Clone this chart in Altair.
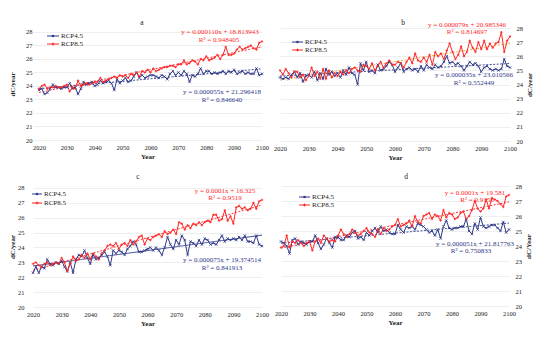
import altair as alt
import pandas as pd

years = list(range(2020, 2101))
series_names = ["RCP4.5", "RCP8.5"]

a_rcp45 = [23.7, 23.8, 23.4, 23.5, 23.8, 24.1, 23.9, 23.9, 23.8, 23.9,
           23.9, 24.2, 23.8, 23.9, 23.4, 23.8, 24.3, 24.1, 24.2, 24.3,
           24.0, 24.1, 24.4, 24.2, 24.3, 24.4, 24.2, 23.7, 24.5, 24.2,
           24.4, 24.6, 24.3, 24.4, 24.7, 25.0, 24.6, 24.8, 24.6, 24.7,
           24.8, 24.8, 24.7, 24.6, 24.8, 24.7, 24.5, 24.9, 25.1, 24.8,
           25.0, 24.8, 25.1, 24.9, 24.3, 24.8, 24.7, 24.9, 25.3, 24.9,
           25.1, 25.1, 24.9, 25.0, 24.9, 25.0, 25.1, 24.9, 25.1, 25.0,
           25.2, 24.9, 25.0, 25.1, 24.9, 25.0, 24.9, 24.9, 25.3, 24.8,
           24.9]
a_rcp85 = [23.8, 24.0, 24.1, 23.8, 23.9, 23.9, 24.0, 23.9, 23.9, 24.0,
           24.1, 23.6, 23.9, 23.8, 24.4, 24.0, 24.1, 24.2, 24.1, 24.2,
           24.3, 24.3, 24.6, 24.3, 24.4, 24.5, 24.6, 24.7, 24.6, 24.8,
           24.7, 24.8, 24.6, 24.9, 24.8, 25.0, 24.7, 25.1, 25.0, 25.2,
           25.0, 25.3, 25.1, 25.2, 25.3, 25.4, 25.4, 25.5, 25.5, 25.4,
           25.6, 25.6, 25.9, 25.6, 25.7, 25.9, 25.8, 25.6, 26.0, 25.9,
           26.2, 25.9, 26.0, 26.1, 26.3, 26.0, 26.3, 26.9, 26.3, 26.3,
           26.4, 26.7, 26.9, 26.7, 26.8, 26.9, 27.0, 26.8, 26.7, 27.2,
           27.3]
b_rcp45 = [24.5, 24.4, 24.5, 24.4, 24.7, 24.9, 24.5, 24.8, 24.2, 24.6,
           24.7, 24.5, 24.9, 24.3, 24.8, 24.4, 25.1, 24.7, 24.9, 24.6,
           24.8, 24.5, 25.0, 24.7, 25.2, 24.8, 24.7, 24.0, 25.5, 25.0,
           25.6, 24.9, 25.0, 24.8, 25.4, 25.0, 25.1, 25.3, 25.6, 25.4,
           24.9, 25.2, 25.5, 24.9, 25.1, 25.2, 25.0, 25.1, 24.9, 25.3,
           25.0, 25.4, 25.2, 25.1, 25.4, 25.2, 25.3, 25.6, 26.0, 25.5,
           25.6, 25.4, 25.5, 25.3, 25.0, 25.3, 25.6, 25.4, 25.5, 25.3,
           24.9, 25.2, 25.3, 25.1, 25.0, 25.1, 25.0, 25.1, 25.8, 25.3,
           25.2]
b_rcp85 = [25.0, 24.7, 25.1, 24.8, 24.5, 24.9, 24.9, 24.5, 24.7, 24.3,
           24.6, 25.2, 24.6, 24.9, 24.4, 25.1, 24.4, 25.0, 24.5, 24.8,
           24.6, 24.9, 24.7, 25.0, 24.8, 25.1, 25.2, 25.0, 24.9, 25.4,
           25.3, 25.1, 25.5, 25.0, 25.3, 25.6, 25.2, 25.5, 25.7, 25.4,
           25.4, 25.6, 25.5, 25.2, 25.6, 25.9, 25.5, 26.2, 25.7, 25.6,
           25.9, 25.6, 26.1, 25.4, 26.3, 26.0, 26.2, 25.8, 26.4, 26.9,
           26.3, 25.8, 26.1, 26.7, 26.0, 26.3, 27.1, 26.6, 26.3, 27.0,
           26.5, 27.1, 26.5, 26.9, 26.6, 26.9, 27.0, 27.7, 26.3, 27.1,
           27.4]
c_rcp45 = [22.3, 22.7, 22.3, 22.7, 22.6, 23.2, 22.9, 22.8, 23.0, 22.9,
           23.1, 22.7, 22.4, 23.0, 22.3, 23.2, 23.5, 23.4, 23.8, 23.3,
           22.9, 23.5, 23.2, 23.3, 23.5, 23.7, 23.4, 22.8, 23.8, 23.6,
           23.8, 23.7, 23.5, 23.9, 24.1, 24.4, 24.2, 23.7, 23.7, 23.8,
           23.9, 24.0, 23.8, 24.0, 23.8, 23.5, 24.0, 24.7, 24.2, 23.9,
           24.5, 24.2, 24.8, 24.5, 23.5, 24.4, 24.3, 24.1, 24.5, 24.2,
           24.6, 24.5, 24.2, 24.3, 24.2, 24.5, 24.8, 24.4, 24.6, 24.5,
           24.6, 24.5, 24.7, 24.5, 24.8, 24.4, 24.4, 24.3, 24.8, 24.2,
           24.1]
c_rcp85 = [22.9, 23.0, 22.8, 22.7, 22.9, 23.0, 22.8, 22.9, 23.0, 22.9,
           23.3, 23.0, 22.4, 22.9, 23.4, 23.1, 23.2, 23.5, 23.3, 23.6,
           23.2, 23.6, 23.4, 23.2, 23.6, 23.8, 24.1, 24.2, 24.1, 24.3,
           23.9, 24.2, 24.3, 24.1, 24.5, 24.2, 24.4, 24.7, 24.8, 24.2,
           24.6, 24.5, 24.7, 24.8, 24.9, 24.7, 25.1, 24.9, 25.0, 25.2,
           24.9, 25.7, 25.6, 25.2, 25.5, 25.3, 25.6, 25.5, 25.7, 25.5,
           25.7, 25.8, 25.7, 26.2, 26.2, 25.8, 25.9, 26.5, 25.8, 26.1,
           25.6, 26.7, 26.8, 26.6, 26.7, 26.5, 26.6, 27.0, 26.6, 27.1,
           27.2]
d_rcp45 = [24.3, 24.2, 24.0, 23.5, 24.4, 24.5, 24.1, 24.3, 24.2, 24.1,
           24.3, 24.3, 24.7, 24.2, 23.8, 24.1, 24.5, 24.2, 23.9, 24.6,
           24.6, 24.4, 24.4, 24.7, 24.6, 24.9, 25.0, 24.5, 24.6, 24.4,
           24.9, 24.7, 25.0, 25.2, 24.9, 25.3, 25.0, 25.1, 24.9, 24.8,
           24.8, 25.4, 25.1, 24.9, 25.3, 25.2, 25.3, 25.1, 25.5, 25.4,
           25.3, 25.1, 24.9, 25.0, 24.7, 25.1, 24.5, 25.3, 25.7, 25.2,
           25.1, 25.2, 25.2, 25.3, 25.3, 25.8, 25.0, 24.8, 25.5, 25.1,
           25.9, 25.3, 25.2, 25.3, 25.4, 25.4, 25.2, 25.0, 25.6, 24.9,
           25.1]
d_rcp85 = [23.9, 24.0, 24.7, 23.9, 24.3, 24.2, 24.4, 24.2, 24.0, 24.2,
           24.3, 23.7, 24.3, 24.5, 24.2, 24.7, 24.5, 24.3, 24.4, 24.3,
           24.7, 25.1, 24.8, 24.6, 24.8, 25.1, 24.9, 24.7, 24.8, 25.0,
           25.2, 24.9, 24.8, 24.6, 25.1, 24.8, 25.2, 25.0, 25.1, 25.3,
           25.4, 25.8, 25.3, 25.4, 25.5, 25.7, 25.3, 26.0, 25.6, 25.5,
           26.0, 26.1, 26.2, 25.8, 26.1, 26.0, 25.7, 26.4, 25.9, 26.2,
           26.1, 25.8, 25.9, 26.2, 26.3, 25.8, 26.0, 26.4, 27.0, 26.5,
           26.3, 26.5, 27.1, 26.5, 27.2, 27.1, 27.0, 26.8, 26.6, 27.3,
           27.4]

panel_titles = ["a", "b", "c", "d"]
y_titles = ["dC/year", "dC/year", "dC/year", "dC/Year"]
eq_red = ["y = 0.000110x + 18.813943", "y = 0.000079x + 20.985346",
          "y = 0.0001x + 16.325", "y = 0.0001x + 19.581"]
r2_red = ["R\u00b2 = 0.948405", "R\u00b2 = 0.814697", "R\u00b2 = 0.9519", "R\u00b2 = 0.9156"]
eq_blue = ["y = 0.000055x + 21.296418", "y = 0.000035x + 23.010566",
           "y = 0.000075x + 19.374514", "y = 0.000051x + 21.817763"]
r2_blue = ["R\u00b2 = 0.846640", "R\u00b2 = 0.552449", "R\u00b2 = 0.841913", "R\u00b2 = 0.750833"]
year_ticks = list(range(2020, 2101, 10))
temp_ticks = list(range(20, 29))

BLUE = "#2e3888"
RED = "#ff2626"
FONT = "Liberation Serif"
X_PATH = "M-1,-1L1,1M-1,1L1,-1"
PLUS_PATH = "M-1,0L1,0M0,-1L0,1"

# layout (pixels, relative to each panel's plot origin)
layout = {
    "a": dict(orient="left", w=229, h=112, xdom=[2017.85, 2100], ydom=[20, 28.296],
              tp=10.5, lp=1, leg=(14, 26, 28, [8, 16]), title_xy=(109, -5),
              red=[(187, 4), (186, 12)], blue=[(189, 64), (189, 72)], trend85=RED, dash45=[2, 1.5]),
    "b": dict(orient="right", w=230, h=113, xdom=[2020, 2100], ydom=[20, 28],
              tp=10, lp=6, leg=(12, 23, 25, [14, 22]), title_xy=(123, -5),
              red=[(187, -3), (187, 4)], blue=[(194, 47), (194, 55)], trend85="#f0a030", dash45=[2, 1.5]),
    "c": dict(orient="left", w=229, h=121, xdom=[2020, 2100], ydom=[20, 28.134],
              tp=2.5, lp=9, leg=(-1, 9, 11, [8, 17]), title_xy=(105, -9),
              red=[(192, 5), (192, 12)], blue=[(189, 74), (189, 82)], trend85=RED, dash45=[1, 0]),
    "d": dict(orient="right", w=228, h=120, xdom=[2020, 2100], ydom=[20, 28],
              tp=10, lp=6, leg=(18, 29, 31, [11, 19]), title_xy=(125, -9),
              red=[(194, 7), (196, 14)], blue=[(194, 58), (190, 65)], trend85=RED, dash45=[2, 1.5]),
}


def text_layer(txt, pos, col, fs, align="center"):
    tdf = pd.DataFrame({"t": [txt]})
    return alt.Chart(tdf).mark_text(font=FONT, fontSize=fs, color=col, align=align,
                                    baseline="middle").encode(
        x=alt.value(pos[0]), y=alt.value(pos[1]), text="t:N")


def legend_layers(L):
    x0, x1, lx, ys = L["leg"]
    out = []
    marker = [dict(shape="square", filled=True, size=5), dict(shape=PLUS_PATH, filled=False, size=8)]
    for j, (name, col) in enumerate(zip(series_names, [BLUE, RED])):
        ldf = pd.DataFrame({"t": [name]})
        out.append(alt.Chart(ldf).mark_rule(color=col, strokeWidth=1).encode(
            x=alt.value(x0), x2=alt.value(x1), y=alt.value(ys[j])))
        out.append(alt.Chart(ldf).mark_point(color=col, opacity=1, strokeWidth=1, **marker[j]).encode(
            x=alt.value((x0 + x1) / 2), y=alt.value(ys[j])))
        out.append(text_layer(name, (lx, ys[j]), "#222", 7, align="left"))
    return out


def panel(i, s45, s85):
    key = panel_titles[i]
    L = layout[key]
    df = pd.DataFrame({
        "year": years + years,
        "value": s45 + s85,
        "series": [series_names[0]] * len(s45) + [series_names[1]] * len(s85),
    })
    x = alt.X("year:Q", scale=alt.Scale(domain=L["xdom"], nice=False, zero=False),
              axis=alt.Axis(values=year_ticks, format="d", title="Year", grid=False, domain=False,
                            ticks=False, labelFont=FONT, labelFontSize=6.5, labelColor="#222",
                            labelPadding=4, titleFont=FONT, titleFontSize=7, titleFontWeight="bold",
                            titleColor="#222", titlePadding=2, labelFlush=False))
    y = alt.Y("value:Q", scale=alt.Scale(domain=L["ydom"], nice=False, zero=False),
              axis=alt.Axis(orient=L["orient"], values=temp_ticks, title=y_titles[i], grid=True,
                            gridColor="#e6e6e6", gridWidth=0.7, domain=False, ticks=False,
                            labelFont=FONT, labelFontSize=6.5, labelColor="#222",
                            labelPadding=L["lp"], titleFont=FONT, titleFontSize=7,
                            titleFontWeight="bold", titleColor="#222", titlePadding=L["tp"],
                            titleAngle=270))
    cscale = alt.Scale(domain=series_names, range=[BLUE, RED])
    base = alt.Chart(df)
    lines = base.mark_line(strokeWidth=1).encode(
        x=x, y=y, color=alt.Color("series:N", scale=cscale, legend=None))
    p45 = base.transform_filter(alt.datum.series == series_names[0]).mark_point(
        filled=False, size=6, strokeWidth=0.8, opacity=1, color=BLUE, shape=X_PATH).encode(x=x, y=y)
    p85 = base.transform_filter(alt.datum.series == series_names[1]).mark_point(
        filled=False, size=6, strokeWidth=0.8, opacity=1, color=RED, shape=PLUS_PATH).encode(x=x, y=y)
    t45 = base.transform_filter(alt.datum.series == series_names[0]).transform_regression(
        "year", "value").mark_line(color=BLUE, strokeWidth=0.9, strokeDash=L["dash45"]).encode(x=x, y=y)
    t85 = base.transform_filter(alt.datum.series == series_names[1]).transform_regression(
        "year", "value").mark_line(color=L["trend85"], strokeWidth=0.9, strokeDash=[2, 1.5]).encode(x=x, y=y)

    texts = [text_layer(key, L["title_xy"], "#222", 7.5),
             text_layer(eq_red[i], L["red"][0], RED, 7), text_layer(r2_red[i], L["red"][1], RED, 7),
             text_layer(eq_blue[i], L["blue"][0], BLUE, 7), text_layer(r2_blue[i], L["blue"][1], BLUE, 7)]

    return alt.layer(t45, t85, lines, p45, p85, *legend_layers(L), *texts).properties(
        width=L["w"], height=L["h"])


pa = panel(0, a_rcp45, a_rcp85)
pb = panel(1, b_rcp45, b_rcp85)
pc = panel(2, c_rcp45, c_rcp85)
pd_ = panel(3, d_rcp45, d_rcp85)

top = alt.hconcat(pa, pb, spacing=4)
bottom = alt.hconcat(pc, pd_, spacing=5)

chart = alt.vconcat(top, bottom, spacing=12).properties(
    padding={"left": 0, "top": 11, "right": 0, "bottom": 0}, background="white"
).configure_view(stroke=None)

chart.save("out.html", embed_options={"renderer": "svg", "actions": False})
